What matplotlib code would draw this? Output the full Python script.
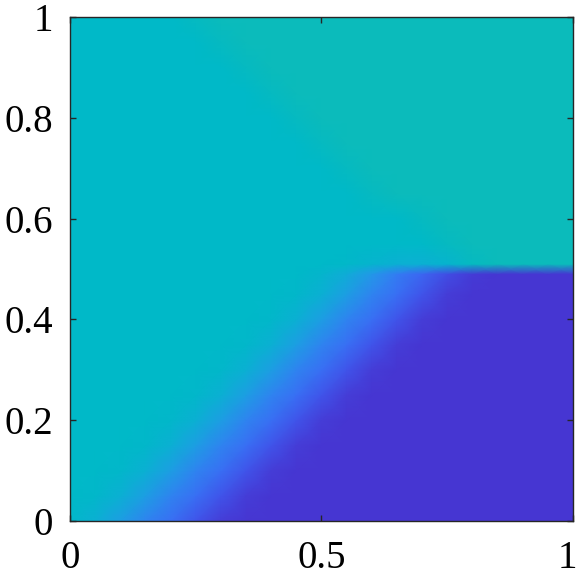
import numpy as np
import matplotlib
matplotlib.use("Agg")
import matplotlib.pyplot as plt
from matplotlib.colors import LinearSegmentedColormap
from matplotlib.transforms import ScaledTranslation

# sample grid (0 = dark blue, 1 = teal)
x_nodes = [0.00, 0.05, 0.10, 0.15, 0.20, 0.25, 0.30, 0.35, 0.40, 0.45, 0.50,
           0.55, 0.60, 0.65, 0.70, 0.75, 0.80, 0.85, 0.90, 0.95, 1.00]
y_nodes = [0.00, 0.05, 0.10, 0.15, 0.20, 0.25, 0.30, 0.35, 0.40, 0.45,
           0.49, 0.51,
           0.55, 0.60, 0.65, 0.70, 0.75, 0.80, 0.85, 0.90, 0.95, 1.00]

C = 0.80   # cyan
T = 1.00   # teal
H = 0.90   # cyan/teal edge

values = [
    [0.77, 0.66, 0.52, 0.38, 0.27, 0.12, 0.03, 0, 0, 0, 0, 0, 0, 0, 0, 0, 0, 0, 0, 0, 0],
    [C, 0.77, 0.66, 0.52, 0.38, 0.27, 0.12, 0.03, 0, 0, 0, 0, 0, 0, 0, 0, 0, 0, 0, 0, 0],
    [C, C, 0.77, 0.66, 0.52, 0.38, 0.27, 0.12, 0.03, 0, 0, 0, 0, 0, 0, 0, 0, 0, 0, 0, 0],
    [C, C, C, 0.77, 0.66, 0.52, 0.38, 0.27, 0.12, 0.03, 0, 0, 0, 0, 0, 0, 0, 0, 0, 0, 0],
    [C, C, C, C, 0.77, 0.66, 0.52, 0.38, 0.27, 0.12, 0.03, 0, 0, 0, 0, 0, 0, 0, 0, 0, 0],
    [C, C, C, C, C, 0.77, 0.66, 0.52, 0.38, 0.27, 0.12, 0.03, 0, 0, 0, 0, 0, 0, 0, 0, 0],
    [C, C, C, C, C, C, 0.77, 0.66, 0.52, 0.38, 0.27, 0.12, 0.03, 0, 0, 0, 0, 0, 0, 0, 0],
    [C, C, C, C, C, C, C, 0.77, 0.66, 0.52, 0.38, 0.27, 0.12, 0.03, 0, 0, 0, 0, 0, 0, 0],
    [C, C, C, C, C, C, C, C, 0.77, 0.66, 0.52, 0.38, 0.27, 0.12, 0.03, 0, 0, 0, 0, 0, 0],
    [C, C, C, C, C, C, C, C, C, 0.77, 0.66, 0.52, 0.38, 0.27, 0.12, 0.03, 0, 0, 0, 0, 0],
    [C, C, C, C, C, C, C, C, C, C, 0.74, 0.62, 0.48, 0.34, 0.22, 0.09, 0.02, 0, 0, 0, 0],
    [C, C, C, C, C, C, C, C, C, C, C, 0.78, 0.72, 0.66, 0.66, 0.72, H, T, T, T, T],
    [C, C, C, C, C, C, C, C, C, C, C, C, C, C, C, H, T, T, T, T, T],
    [C, C, C, C, C, C, C, C, C, C, C, C, C, C, H, T, T, T, T, T, T],
    [C, C, C, C, C, C, C, C, C, C, C, C, H, T, T, T, T, T, T, T, T],
    [C, C, C, C, C, C, C, C, C, C, C, H, T, T, T, T, T, T, T, T, T],
    [C, C, C, C, C, C, C, C, C, C, H, T, T, T, T, T, T, T, T, T, T],
    [C, C, C, C, C, C, C, C, C, H, T, T, T, T, T, T, T, T, T, T, T],
    [C, C, C, C, C, C, C, C, H, T, T, T, T, T, T, T, T, T, T, T, T],
    [C, C, C, C, C, C, C, H, T, T, T, T, T, T, T, T, T, T, T, T, T],
    [C, C, C, C, C, C, H, T, T, T, T, T, T, T, T, T, T, T, T, T, T],
    [C, C, C, C, C, H, T, T, T, T, T, T, T, T, T, T, T, T, T, T, T],
]

x_ticks = [0, 0.5, 1]
x_labels = ["0", "0.5", "1"]
y_ticks = [0, 0.2, 0.4, 0.6, 0.8, 1]
y_labels = ["0", "0.2", "0.4", "0.6", "0.8", "1"]

cmap = LinearSegmentedColormap.from_list("field", [
    (0.00, "#4636d2"),
    (0.12, "#4055ea"),
    (0.30, "#3874f6"),
    (0.48, "#2398e8"),
    (0.64, "#0dafd4"),
    (0.80, "#00b9c8"),
    (1.00, "#0bbbbb"),
])

plt.rcParams["font.family"] = ["Liberation Serif", "DejaVu Serif"]

fig = plt.figure(figsize=(5.81, 5.81), dpi=100)
ax = fig.add_axes([0.1205, 0.1033, 0.8655, 0.8674])

X, Y = np.meshgrid(x_nodes, y_nodes)
ax.pcolormesh(X, Y, np.array(values), cmap=cmap, vmin=0, vmax=1,
              shading="gouraud")

ax.set_xlim(0, 1)
ax.set_ylim(0, 1)
ax.set_xticks(x_ticks)
ax.set_xticklabels(x_labels)
ax.set_yticks(y_ticks)
ax.set_yticklabels(y_labels)
ax.tick_params(direction="in", length=4, width=1, color="#262626",
               labelsize=28, top=True, right=True)
ax.tick_params(axis="x", pad=14)
ax.tick_params(axis="y", pad=12)
for s in ax.spines.values():
    s.set_color("#262626")
    s.set_linewidth(1)

# nudge the last x label so it stays inside the figure
last = ax.get_xticklabels()[-1]
last.set_transform(last.get_transform()
                   + ScaledTranslation(-5 / 100, 0, fig.dpi_scale_trans))

fig.savefig("out.png", dpi=100)
